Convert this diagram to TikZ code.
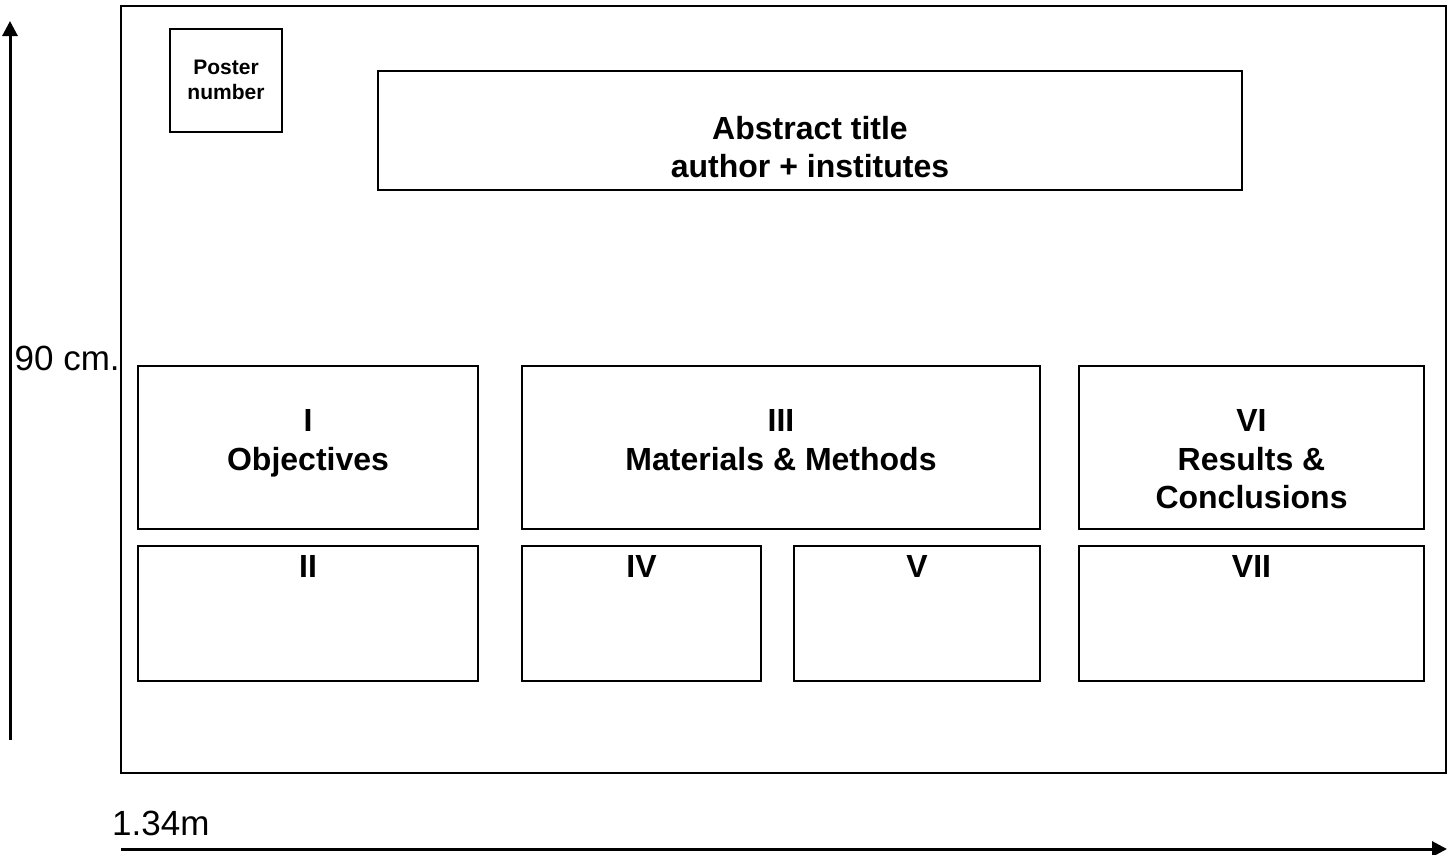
\documentclass[tikz,border=0pt]{standalone}
\usepackage{fontspec}
\setmainfont{Liberation Sans}
\usetikzlibrary{arrows.meta,positioning}

\begin{document}
\begin{tikzpicture}[x=1pt,y=-1pt,
  panel/.style={draw=black, line width=2pt, inner sep=0pt, outer sep=0pt, anchor=north west},
  heading/.style={font=\bfseries\fontsize{32}{38.5}\selectfont, align=center, inner sep=0pt, anchor=north},
  small heading/.style={font=\bfseries\fontsize{21}{25}\selectfont, align=center, inner sep=0pt, anchor=north},
  size label/.style={font=\fontsize{35}{42}\selectfont, inner sep=0pt, anchor=base west},
  axis/.style={line width=3pt, -{Triangle[length=15pt,width=15pt]}}]
\useasboundingbox (0,0) rectangle (1447,854);
\node[panel, minimum width=1325pt, minimum height=767pt] (poster) at (121,6) {};
\node[panel, minimum width=112pt, minimum height=103pt] (number) at (170,29) {};
\node[panel, minimum width=864pt, minimum height=119pt] (title) at (378,71) {};
\node[panel, minimum width=340pt, minimum height=163pt] (obj) at (138,366) {};
\node[panel, minimum width=518pt, minimum height=163pt] (mat) at (522,366) {};
\node[panel, minimum width=345pt, minimum height=163pt] (res) at (1079,366) {};
\node[panel, minimum width=340pt, minimum height=135pt] (secII) at (138,546) {};
\node[panel, minimum width=239pt, minimum height=135pt] (secIV) at (522,546) {};
\node[panel, minimum width=246pt, minimum height=135pt] (secV) at (794,546) {};
\node[panel, minimum width=345pt, minimum height=135pt] (secVII) at (1079,546) {};

\node[small heading, below=30.5pt of number.north] (number text) {Poster\\number};
\node[heading, below=45pt of title.north] (title text) {Abstract title\\author + institutes};
\node[heading, below=43.5pt of obj.north] (obj text) {I\\Objectives};
\node[heading, below=43.5pt of mat.north] (mat text) {III\\Materials \& Methods};
\node[heading, below=43.5pt of res.north] (res text) {VI\\Results \&\\Conclusions};
\node[heading, below=9.5pt of secII.north] (secII text) {II};
\node[heading, below=9.5pt of secIV.north] (secIV text) {IV};
\node[heading, below=9.5pt of secV.north] (secV text) {V};
\node[heading, below=9.5pt of secVII.north] (secVII text) {VII};

\coordinate (height bottom) at (10,740);
\coordinate (height top) at (10,21);
\coordinate (width left) at (121,849);
\coordinate (width right) at (1447,849);
\draw[axis] (height bottom) -- (height top);
\draw[axis] (width left) -- (width right);
\node[size label] (height text) at (14.5,370) {90 cm.};
\node[size label] (width text) at (112,835) {1.34m};
\end{tikzpicture}
\end{document}
